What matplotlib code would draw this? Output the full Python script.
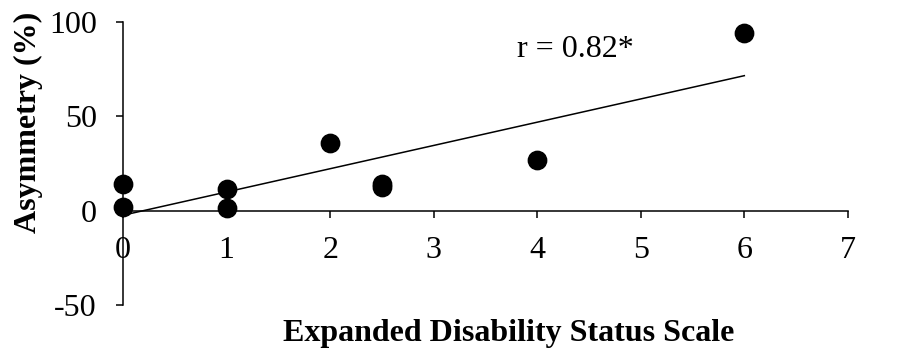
import numpy as np
import matplotlib.pyplot as plt

plt.rcParams['font.family'] = ['Liberation Serif', 'DejaVu Serif']

edss = [0, 0, 1, 1, 2, 2.5, 2.5, 4, 6]
asymmetry = [14, 2, 11.5, 1.5, 36, 12.5, 14, 27, 94]
x_ticks = [0, 1, 2, 3, 4, 5, 6, 7]
y_ticks = [-50, 0, 50, 100]

fig = plt.figure(figsize=(9.02, 3.52), dpi=100)
ax = fig.add_axes([0.1364, 0.1335, 0.8036, 0.804])

ax.scatter(edss, asymmetry, s=175, color='black', zorder=3, clip_on=False)

# least-squares trend line over the observed range
slope, intercept = np.polyfit(edss, asymmetry, 1)
xs = np.array([min(edss), max(edss)])
ax.plot(xs, slope * xs + intercept, color='black', linewidth=1.1, zorder=2)

ax.text(3.80, 85.5, 'r = 0.82*', fontsize=23, va='center', ha='left')

ax.set_xlim(0, 7)
ax.set_ylim(-50, 100)
ax.set_xticks(x_ticks)
ax.set_yticks(y_ticks)
ax.set_yticklabels([str(v) for v in y_ticks])

ax.spines['top'].set_visible(False)
ax.spines['right'].set_visible(False)
ax.spines['bottom'].set_position(('data', 0))
for sp in ('left', 'bottom'):
    ax.spines[sp].set_linewidth(1.1)

ax.tick_params(axis='both', direction='out', length=5, width=1.1, labelsize=23)
ax.tick_params(axis='x', pad=13)
ax.tick_params(axis='y', pad=14)

ax.set_xlabel('Expanded Disability Status Scale', fontsize=23, fontweight='bold', va='center')
ax.xaxis.set_label_coords(0.532, -0.1)
ax.set_ylabel('Asymmetry (%)', fontsize=23, fontweight='bold', va='center')
ax.yaxis.set_label_coords(-0.131, 0.645)

fig.savefig('out.png', dpi=100)
